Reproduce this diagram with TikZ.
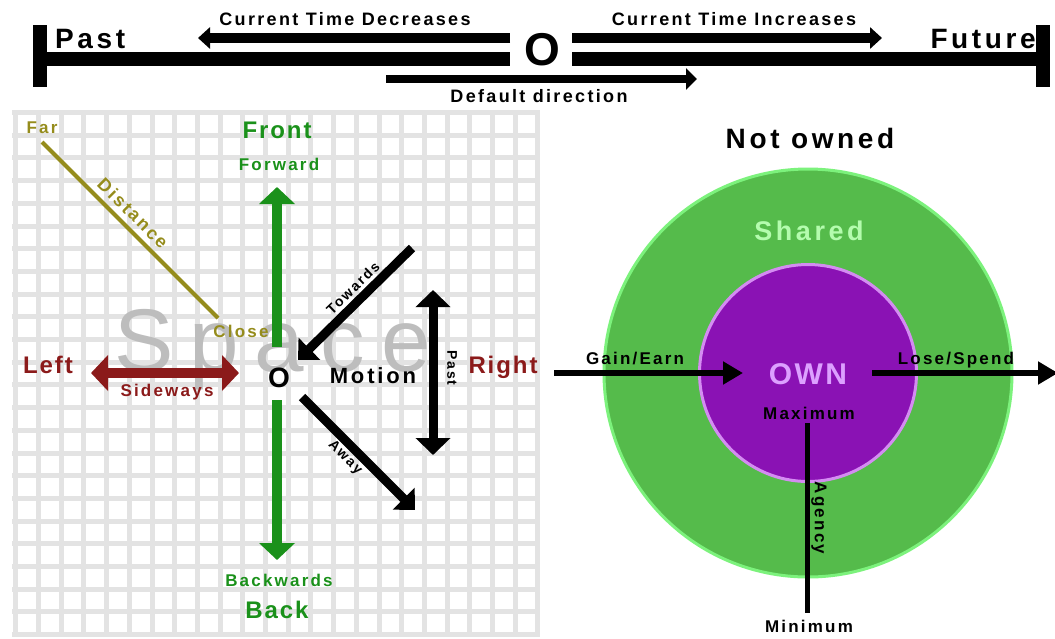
\documentclass[tikz,border=0pt]{standalone}
\usepackage{fontspec}
\setmainfont{Liberation Sans}
\newfontfamily\labfont[LetterSpace=13]{Liberation Sans}
\newfontfamily\blabfont[LetterSpace=8]{Liberation Sans}
\newfontfamily\wmfont[LetterSpace=18]{Liberation Sans}
\usetikzlibrary{arrows.meta}
\definecolor{gridc}{HTML}{E3E3E3}
\definecolor{fgreen}{HTML}{1A911A}
\definecolor{dred}{HTML}{8B1A1A}
\definecolor{olivec}{HTML}{958C1C}
\definecolor{wmgray}{HTML}{BDBDBD}
\definecolor{sharedfill}{HTML}{55BB4B}
\definecolor{sharedline}{HTML}{7CF27C}
\definecolor{ownfill}{HTML}{8A12B4}
\definecolor{ownline}{HTML}{D48CF2}
\definecolor{sharedtxt}{HTML}{B4FCAE}
\definecolor{owntxt}{HTML}{DCA0FF}
\newcommand{\fsz}[1]{\fontsize{#1pt}{#1pt}\selectfont}
\begin{document}
\begin{tikzpicture}[x=1pt,y=-1pt,
  lab/.style={font={\labfont\bfseries\fsz{#1}}, inner sep=0pt, anchor=base},
  lab/.default=17,
  blab/.style={font={\blabfont\bfseries\fsz{#1}}, inner sep=0pt, anchor=base},
  blab/.default=24,
  gridline/.style={gridc, line width=5pt},
  bar/.style={line width=14pt},
  tl/.style={line width=10pt, -{Triangle[width=21pt,length=12pt]}},
  dl/.style={line width=8pt, -{Triangle[width=21pt,length=11pt]}},
  garr/.style={fgreen, line width=10pt, -{Triangle[width=35pt,length=17pt]}},
  side/.style={dred, line width=10pt, {Triangle[width=35pt,length=17pt]}-{Triangle[width=35pt,length=17pt]}},
  marr/.style={line width=9pt, -{Triangle[width=30pt,length=16pt]}},
  pastarr/.style={line width=9pt, {Triangle[width=34pt,length=17pt]}-{Triangle[width=34pt,length=17pt]}},
  oarr/.style={line width=6pt, -{Triangle[width=22pt,length=20pt]}},
  ring/.style={circle, inner sep=0pt, line width=3pt}
]
\useasboundingbox (0,0) rectangle (1055,638);
\fill[white] (0,0) rectangle (1055,638);

% ---------- grid ----------
\foreach \i in {0,...,23} {
  \draw[gridline] ({15.8+\i*22.7},110) -- ({15.8+\i*22.7},637);
  \draw[gridline] (12,{112.5+\i*22.7}) -- (540,{112.5+\i*22.7});
}

% ---------- timeline ----------
\coordinate (pbT) at (39.5,25);
\coordinate (pbB) at (39.5,87);
\coordinate (fbT) at (1043,25);
\coordinate (fbB) at (1043,87);
\coordinate (pb) at (39.5,59);
\coordinate (fb) at (1043,59);
\coordinate (barL) at (510,59);
\coordinate (barR) at (572,59);
\draw[bar] (pbT) -- (pbB);
\draw[bar] (fbT) -- (fbB);
\draw[bar] (pb) -- (barL);
\draw[bar] (barR) -- (fb);
\node[blab=46, anchor=center] (tO) at (542,50) {O};
\coordinate (decS) at (510,38);
\coordinate (decE) at (198,38);
\coordinate (incS) at (572,38);
\coordinate (incE) at (882,38);
\draw[tl] (decS) -- (decE);
\draw[tl] (incS) -- (incE);
\coordinate (defS) at (386,79);
\coordinate (defE) at (697,79);
\draw[dl] (defS) -- (defE);
\node[lab=18] (dec) at (345,25) {Current Time Decreases};
\node[lab=18] (inc) at (734,25) {Current Time Increases};
\node[lab=28, anchor=base west] (past) at (55,48) {Past};
\node[lab=28, anchor=base east] (future) at (1036,48) {Future};
\node[lab=18] (defd) at (539,102) {Default direction};

% ---------- space ----------
\node[font={\wmfont\fsz{89}}, text=wmgray, inner sep=0pt, anchor=base west] (wm) at (114,371) {Space};

\coordinate (dA) at (42,142);
\coordinate (dB) at (218,318);
\draw[olivec, line width=4pt] (dA) -- (dB);
\node[lab=17, text=olivec] (far) at (42,133) {Far};
\node[lab=17, text=olivec] (close) at (241,337) {Close};
\node[lab=18, anchor=center, rotate=-45, text=olivec] (dist) at (133,213) {Distance};

\coordinate (gU0) at (277,347);
\coordinate (gU1) at (277,187);
\coordinate (gD0) at (277,400);
\coordinate (gD1) at (277,560);
\draw[garr] (gU0) -- (gU1);
\draw[garr] (gD0) -- (gD1);
\node[blab=24, text=fgreen] (front) at (277,138) {Front};
\node[lab=17, text=fgreen] (fwd) at (279,170) {Forward};
\node[lab=17, text=fgreen] (bwd) at (279,586) {Backwards};
\node[blab=24, text=fgreen] (back) at (277,618) {Back};

\coordinate (sL) at (91,373);
\coordinate (sR) at (239,373);
\draw[side] (sL) -- (sR);
\node[blab=24, text=dred] (left) at (48,373) {Left};
\node[lab=17, text=dred] (sidew) at (167,396) {Sideways};
\node[blab=24, text=dred] (right) at (503,373) {Right};

\node[blab=28] (sO) at (279,387) {O};
\node[lab=22] (motion) at (373,383) {Motion};

\coordinate (tw0) at (412,248);
\coordinate (tw1) at (298,360);
\coordinate (aw0) at (302,397);
\coordinate (aw1) at (415,510);
\draw[marr] (tw0) -- (tw1);
\draw[marr] (aw0) -- (aw1);
\coordinate (pv0) at (433,290);
\coordinate (pv1) at (433,455);
\draw[pastarr] (pv0) -- (pv1);
\node[lab=14, anchor=center, rotate=44] (tow) at (353,288) {Towards};
\node[lab=14, anchor=center, rotate=-45] (away) at (345,458) {Away};
\node[lab=14, anchor=center, rotate=-90] (pastv) at (452,368) {Past};

% ---------- ownership ----------
\node[lab=28] (notown) at (810,148) {Not owned};
\node[ring, minimum size=408pt, fill=sharedfill, draw=sharedline] (outer) at (808,373) {};
\node[ring, minimum size=217pt, fill=ownfill, draw=ownline] (inner) at (808,373) {};
\node[lab=27, text=sharedtxt] (shared) at (809,240) {Shared};
\node[blab=30, text=owntxt] (own) at (808,384) {OWN};

\coordinate (ga0) at (554,373);
\coordinate (ga1) at (743,373);
\coordinate (lo0) at (872,373);
\coordinate (lo1) at (1058,373);
\draw[oarr] (ga0) -- (ga1);
\draw[oarr] (lo0) -- (lo1);
\node[lab=17] (gain) at (635,364) {Gain/Earn};
\node[lab=17] (lose) at (956,364) {Lose/Spend};
\node[lab=17] (maxi) at (809,419) {Maximum};
\coordinate (ag0) at (807,423);
\coordinate (ag1) at (807,613);
\draw[line width=5pt] (ag0) -- (ag1);
\node[lab=17] (mini) at (809,632) {Minimum};
\node[lab=17, anchor=center, rotate=-90] (agency) at (819,518) {Agency};
\end{tikzpicture}
\end{document}
